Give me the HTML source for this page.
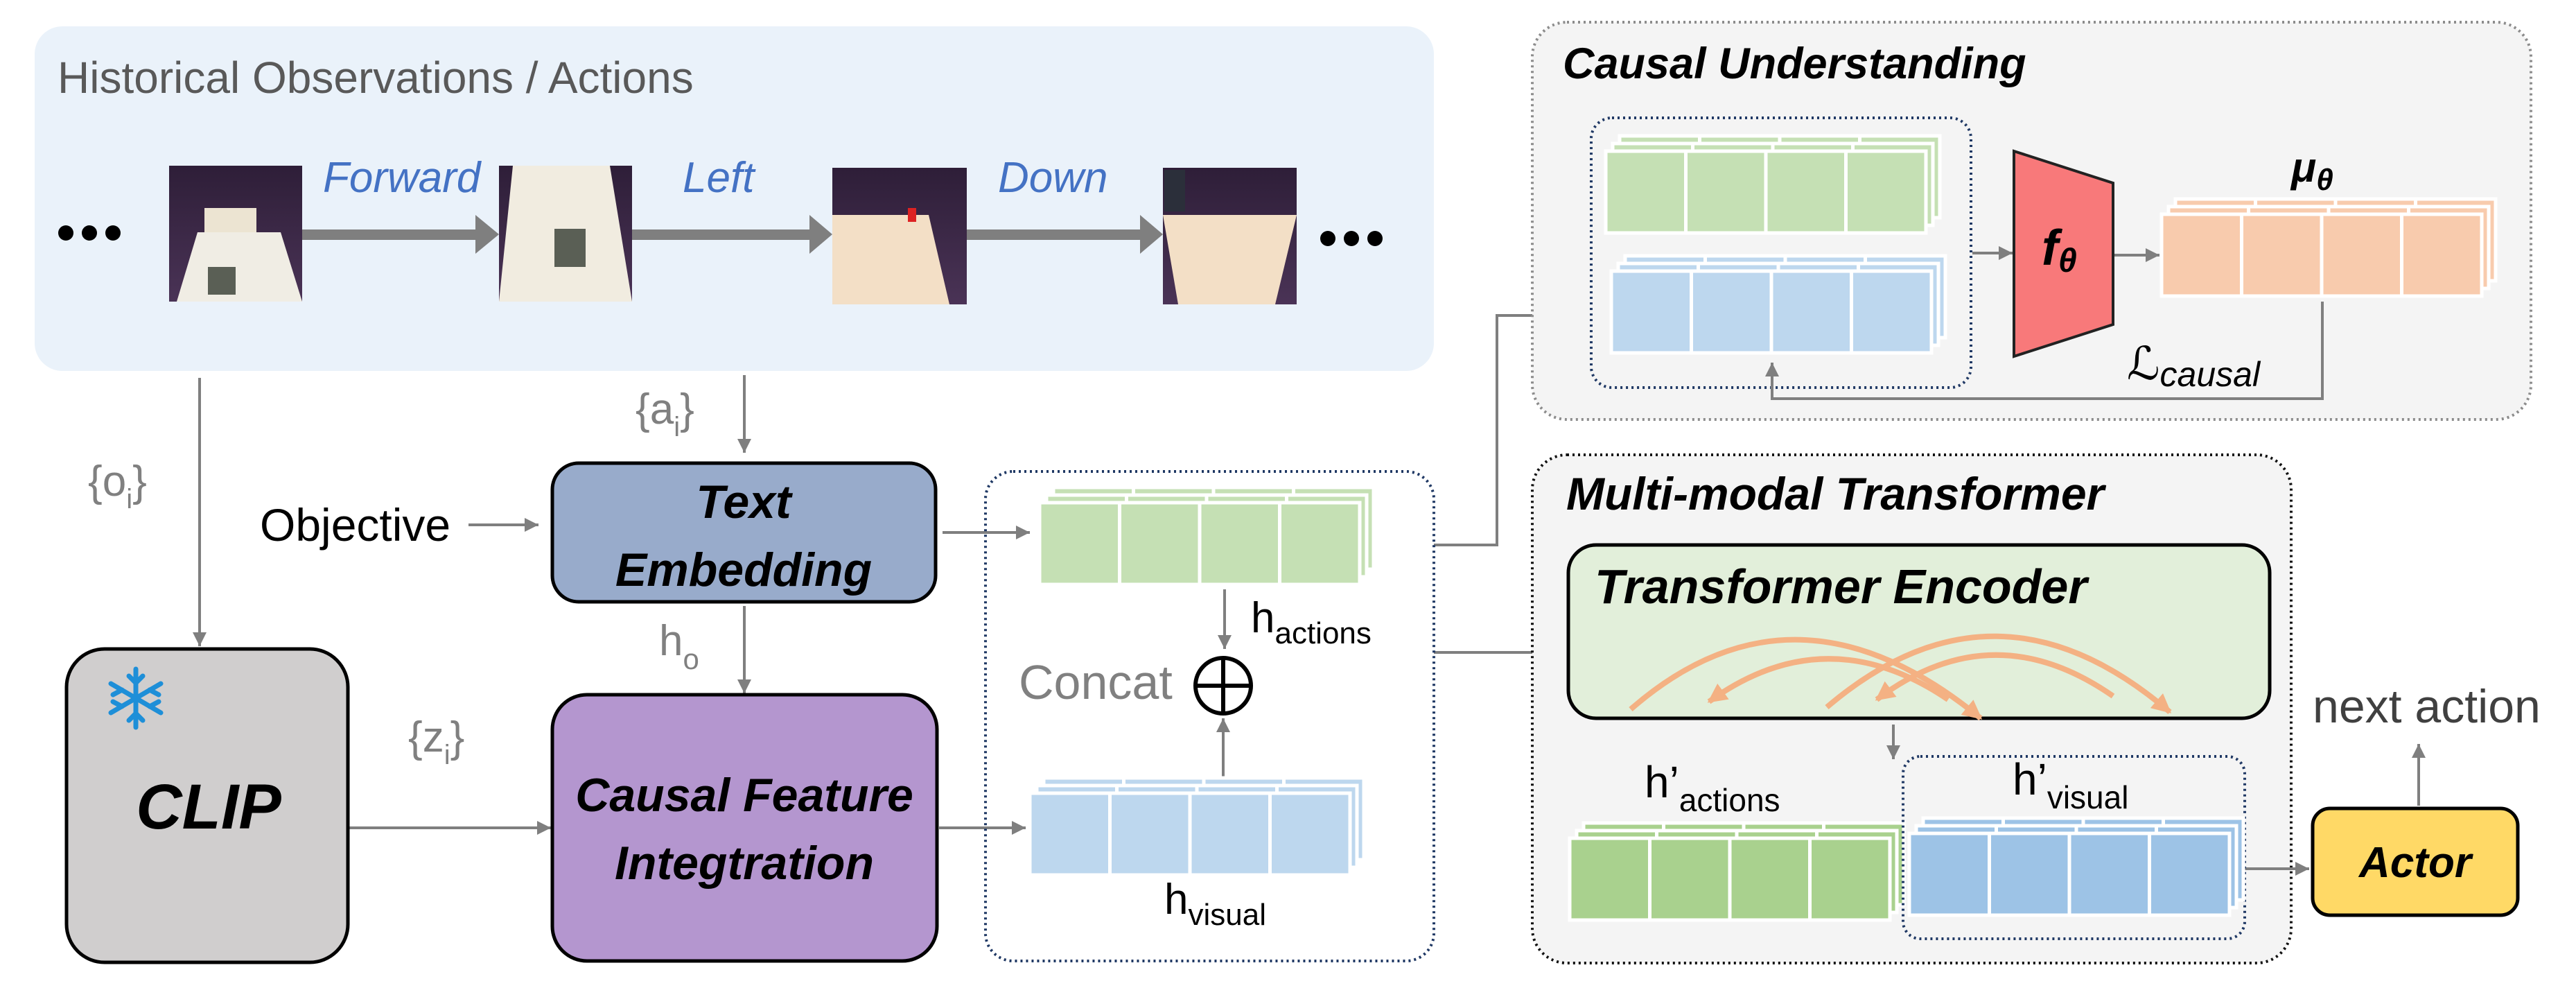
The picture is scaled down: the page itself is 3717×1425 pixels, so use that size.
<!DOCTYPE html>
<html><head><meta charset="utf-8"><style>
html,body{margin:0;padding:0;background:#fff}
svg{display:block}
text{font-family:"Liberation Sans","DejaVu Sans",sans-serif}
.bi{font-weight:bold;font-style:italic}
</style></head><body>
<svg width="3717" height="1425" viewBox="0 0 3717 1425" xmlns="http://www.w3.org/2000/svg">
<defs>
<symbol id="L" viewBox="0 0 462 118" width="462" height="118" overflow="visible">
<rect x="0" y="0" width="462" height="118" fill="currentColor" stroke="#fff" stroke-width="5"/>
<line x1="115.5" y1="0" x2="115.5" y2="118" stroke="#fff" stroke-width="5"/>
<line x1="231" y1="0" x2="231" y2="118" stroke="#fff" stroke-width="5"/>
<line x1="346.5" y1="0" x2="346.5" y2="118" stroke="#fff" stroke-width="5"/>
</symbol>
<marker id="ah" viewBox="0 0 10 10" refX="10" refY="5" markerWidth="22" markerHeight="20" orient="auto" markerUnits="userSpaceOnUse">
<path d="M0,0 L10,5 L0,10 z" fill="#7f7f7f"/>
</marker>
<marker id="oh" viewBox="0 0 10 10" refX="9" refY="5" markerWidth="28" markerHeight="28" orient="auto" markerUnits="userSpaceOnUse">
<path d="M0,0 L10,5 L0,10 z" fill="#F4B183"/>
</marker>
<linearGradient id="wall" x1="0" y1="0" x2="0" y2="1"><stop offset="0" stop-color="#2e1e38"/><stop offset="1" stop-color="#4a3356"/></linearGradient>
</defs>

<!-- Historical panel -->
<rect x="50" y="38" width="2019" height="497" rx="40" fill="#EAF2FA"/>
<text x="83" y="134" font-size="64" fill="#595959">Historical Observations / Actions</text>

<!-- images -->
<g>
<rect x="244" y="239" width="192" height="196" fill="url(#wall)"/>
<rect x="295" y="300" width="75" height="40" fill="#ece4d2"/>
<polygon points="285,335 405,335 436,435 255,435" fill="#f0ede4"/>
<rect x="300" y="385" width="40" height="40" fill="#5a5f55"/>
<rect x="720" y="239" width="192" height="196" fill="url(#wall)"/>
<polygon points="740,239 880,239 912,435 720,435" fill="#f1ece0"/>
<rect x="800" y="330" width="45" height="55" fill="#5a5f55"/>
<rect x="1201" y="242" width="194" height="197" fill="url(#wall)"/>
<polygon points="1201,310 1340,310 1370,439 1201,439" fill="#f3dfc6"/>
<rect x="1310" y="300" width="12" height="20" fill="#d22"/>
<rect x="1678" y="242" width="193" height="197" fill="url(#wall)"/>
<polygon points="1678,310 1871,310 1840,439 1700,439" fill="#f3dfc6"/>
<rect x="1680" y="245" width="30" height="60" fill="#2b2f3a"/>
</g>
<!-- thick arrows -->
<g fill="#7f7f7f">
<rect x="436" y="331" width="250" height="15"/><polygon points="686,310 720,338 686,366"/>
<rect x="912" y="331" width="256" height="15"/><polygon points="1168,310 1201,338 1168,366"/>
<rect x="1395" y="331" width="250" height="15"/><polygon points="1645,310 1678,338 1645,366"/>
</g>
<g font-size="62" fill="#4472C4" font-style="italic">
<text x="466" y="277">Forward</text>
<text x="985" y="277">Left</text>
<text x="1440" y="277">Down</text>
</g>
<g fill="#000">
<circle cx="95" cy="336" r="11"/><circle cx="129" cy="336" r="11"/><circle cx="163" cy="336" r="11"/>
<circle cx="1916" cy="344" r="11"/><circle cx="1950" cy="344" r="11"/><circle cx="1984" cy="344" r="11"/>
</g>

<!-- connectors left -->
<g stroke="#7f7f7f" stroke-width="4" fill="none" marker-end="url(#ah)">
<line x1="288" y1="545" x2="288" y2="932"/>
<line x1="1074" y1="541" x2="1074" y2="653"/>
<line x1="676" y1="757" x2="777" y2="757"/>
<line x1="1074" y1="874" x2="1074" y2="1000"/>
<line x1="502" y1="1194" x2="795" y2="1194"/>
<line x1="1360" y1="768" x2="1486" y2="768"/>
<line x1="1355" y1="1194" x2="1480" y2="1194"/>
<line x1="1767" y1="850" x2="1767" y2="936"/>
<line x1="1765" y1="1123" x2="1765" y2="1036"/>
<polyline points="2069,786 2160,786 2160,455 2270,455"/>
<line x1="2069" y1="941" x2="2255" y2="941"/>
</g>
<g fill="#808080" font-size="62">
<text x="127" y="715">{o<tspan font-size="40" dy="18">i</tspan><tspan dy="-18">}</tspan></text>
<text x="917" y="611">{a<tspan font-size="40" dy="18">i</tspan><tspan dy="-18">}</tspan></text>
<text x="589" y="1084">{z<tspan font-size="40" dy="18">i</tspan><tspan dy="-18">}</tspan></text>
<text x="951" y="945">h<tspan font-size="42" dy="20">o</tspan></text>
<text x="1470" y="1008" font-size="70">Concat</text>
</g>
<text x="375" y="780" font-size="66" fill="#000">Objective</text>

<!-- Text Embedding -->
<rect x="797" y="668" width="553" height="200" rx="38" fill="#98ABCB" stroke="#000" stroke-width="5"/>
<text class="bi" x="1073" y="747" font-size="68" text-anchor="middle">Text</text>
<text class="bi" x="1073" y="845" font-size="68" text-anchor="middle">Embedding</text>

<!-- CFI -->
<rect x="797" y="1002" width="555" height="384" rx="50" fill="#B496CF" stroke="#000" stroke-width="5"/>
<text class="bi" x="1074" y="1170" font-size="68" text-anchor="middle">Causal Feature</text>
<text class="bi" x="1074" y="1268" font-size="68" text-anchor="middle">Integtration</text>

<!-- CLIP -->
<rect x="96" y="936" width="406" height="452" rx="55" fill="#D0CECE" stroke="#000" stroke-width="5"/>
<text class="bi" x="301" y="1195" font-size="92" text-anchor="middle">CLIP</text>
<g stroke="#1E8FD8" stroke-width="7" stroke-linecap="round" fill="none" transform="translate(196,1007)">
<line x1="0" y1="-42" x2="0" y2="42"/><line x1="-36" y1="-21" x2="36" y2="21"/><line x1="-36" y1="21" x2="36" y2="-21"/>
<path d="M-10,-32 L0,-22 L10,-32 M-10,32 L0,22 L10,32 M-33,-5 L-20,-12 M33,5 L20,12 M-33,5 L-20,12 M33,-5 L20,-12"/>
</g>

<!-- dotted concat box -->
<rect x="1422" y="680" width="647" height="706" rx="40" fill="none" stroke="#1F3864" stroke-width="4" stroke-dasharray="3,5"/>
<use href="#L" x="1520" y="703" style="color:#C5E0B4"/>
<use href="#L" x="1510" y="714" style="color:#C5E0B4"/>
<use href="#L" x="1500" y="725" style="color:#C5E0B4"/>
<use href="#L" x="1506" y="1122" style="color:#BDD7EE"/>
<use href="#L" x="1496" y="1133" style="color:#BDD7EE"/>
<use href="#L" x="1486" y="1144" style="color:#BDD7EE"/>
<text x="1805" y="912" font-size="62">h<tspan font-size="44" dy="16">actions</tspan></text>
<text x="1680" y="1318" font-size="62">h<tspan font-size="44" dy="16">visual</tspan></text>
<circle cx="1765" cy="989" r="40" fill="none" stroke="#000" stroke-width="6"/>
<line x1="1725" y1="989" x2="1805" y2="989" stroke="#000" stroke-width="6"/>
<line x1="1765" y1="949" x2="1765" y2="1029" stroke="#000" stroke-width="6"/>

<!-- Causal Understanding -->
<rect x="2211" y="32" width="1441" height="573" rx="50" fill="#F4F4F4" stroke="#8c8c8c" stroke-width="4" stroke-dasharray="3,5"/>
<text class="bi" x="2255" y="113" font-size="63">Causal Understanding</text>
<rect x="2296" y="170" width="548" height="389" rx="30" fill="none" stroke="#1F3864" stroke-width="4" stroke-dasharray="3,5"/>
<use href="#L" x="2337" y="196" style="color:#C5E0B4"/>
<use href="#L" x="2327" y="207" style="color:#C5E0B4"/>
<use href="#L" x="2317" y="218" style="color:#C5E0B4"/>
<use href="#L" x="2345" y="369" style="color:#BDD7EE"/>
<use href="#L" x="2335" y="380" style="color:#BDD7EE"/>
<use href="#L" x="2325" y="391" style="color:#BDD7EE"/>
<polygon points="2906,218 3049,264 3049,468 2906,514" fill="#F8797A" stroke="#222" stroke-width="4"/>
<text x="2946" y="382" font-size="72" font-weight="bold" font-style="italic" font-family="Liberation Serif,serif">f<tspan font-size="48" dy="10">θ</tspan></text>
<use href="#L" x="3139" y="287" style="color:#F8CBAD"/>
<use href="#L" x="3129" y="298" style="color:#F8CBAD"/>
<use href="#L" x="3119" y="309" style="color:#F8CBAD"/>
<text x="3306" y="262" font-size="60" font-weight="bold" font-style="italic" font-family="Liberation Serif,serif">μ<tspan font-size="44" dy="12">θ</tspan></text>
<text x="3069" y="547" font-size="66" font-style="italic" font-family="Liberation Serif,serif">ℒ<tspan font-size="50" dy="10">causal</tspan></text>
<g stroke="#7f7f7f" stroke-width="4" fill="none" marker-end="url(#ah)">
<line x1="2846" y1="365" x2="2904" y2="365"/>
<line x1="3051" y1="368" x2="3116" y2="368"/>
<polyline points="3351,435 3351,575 2557,575 2557,523"/>
</g>

<!-- Multi-modal -->
<rect x="2211" y="656" width="1095" height="733" rx="50" fill="#F4F4F4" stroke="#111" stroke-width="4" stroke-dasharray="3,5"/>
<text class="bi" x="2260" y="735" font-size="66">Multi-modal Transformer</text>
<rect x="2263" y="786" width="1012" height="250" rx="40" fill="#E2EFDA" stroke="#000" stroke-width="5"/>
<text class="bi" x="2301" y="870" font-size="70">Transformer Encoder</text>
<g stroke="#F4B183" stroke-width="8" fill="none" marker-end="url(#oh)">
<path d="M2353,1023 Q2590,816 2858,1036"/>
<path d="M2811,1009 Q2635,890 2466,1012"/>
<path d="M2636,1020 Q2880,812 3131,1027"/>
<path d="M3049,1004 Q2875,883 2708,1009"/>
</g>
<g stroke="#7f7f7f" stroke-width="4" fill="none" marker-end="url(#ah)">
<line x1="2732" y1="1045" x2="2732" y2="1095"/>
<line x1="3239" y1="1253" x2="3332" y2="1253"/>
<line x1="3490" y1="1162" x2="3490" y2="1073"/>
</g>
<use href="#L" x="2285" y="1187" style="color:#A9D18E"/>
<use href="#L" x="2275" y="1198" style="color:#A9D18E"/>
<use href="#L" x="2265" y="1209" style="color:#A9D18E"/>
<rect x="2746" y="1091" width="493" height="263" rx="25" fill="none" stroke="#1F3864" stroke-width="4" stroke-dasharray="3,5"/>
<use href="#L" x="2775" y="1180" style="color:#9DC3E6"/>
<use href="#L" x="2765" y="1191" style="color:#9DC3E6"/>
<use href="#L" x="2755" y="1202" style="color:#9DC3E6"/>
<text x="2373" y="1150" font-size="64">h’<tspan font-size="46" dy="20">actions</tspan></text>
<text x="2904" y="1146" font-size="64">h’<tspan font-size="46" dy="20">visual</tspan></text>
<rect x="3337" y="1166" width="296" height="154" rx="25" fill="#FFD966" stroke="#000" stroke-width="5"/>
<text class="bi" x="3485" y="1265" font-size="62" text-anchor="middle">Actor</text>
<text x="3337" y="1042" font-size="68" fill="#404040">next action</text>
</svg>
</body></html>
